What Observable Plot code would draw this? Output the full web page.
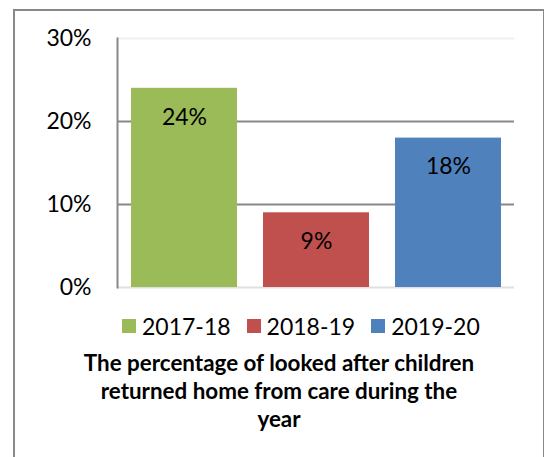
<!DOCTYPE html>
<html>
<head>
<meta charset="utf-8">
<script src="https://cdn.jsdelivr.net/npm/d3@7"></script>
<script src="https://cdn.jsdelivr.net/npm/@observablehq/plot@0.6"></script>
<style>
  html, body { margin: 0; padding: 0; background: #fff; }
  #wrap { position: relative; width: 544px; height: 457px; overflow: hidden; background: #fff; font-family: Lato, "Open Sans", sans-serif; }
  #frame { position: absolute; left: 13px; top: 9px; width: 528px; height: 460px; border-left: 2px solid #898989; border-top: 2px solid #898989; border-right: 2px solid #898989; box-sizing: content-box; }
  #chart { position: absolute; left: 0; top: 0; }
  #legend { position: absolute; left: 122px; top: 312px; height: 28px; line-height: 28px; display: flex; align-items: center; font-size: 23px; color: #000; white-space: nowrap; }
  .sw { width: 14px; height: 14px; margin-right: 6px; }
  .item { display: flex; align-items: center; margin-right: 16px; }
  #title { position: absolute; left: 14px; width: 530px; top: 349px; text-align: center; font-weight: bold; font-size: 22.4px; line-height: 28px; color: #000; white-space: nowrap; }
</style>
</head>
<body>
<div id="wrap">
  <div id="frame"></div>
  <div id="chart"></div>
  <div id="legend"></div>
  <div id="title"></div>
</div>
<script>
const years = ["2017-18", "2018-19", "2019-20"];
const values = [0.24, 0.09, 0.18];
const colors = ["#9BBB59", "#C0504D", "#4F81BD"];
const yTicks = [0, 0.1, 0.2, 0.3];
const titleLines = ["The percentage of looked after children", "returned home from care during the", "year"];

const data = years.map((y, i) => ({year: y, value: values[i]}));
const pct = d3.format(".0%");

const chart = Plot.plot({
  width: 544,
  height: 300,
  marginLeft: 117,
  marginRight: 30,
  marginTop: 38,
  marginBottom: 13,
  style: {fontFamily: "Lato, 'Open Sans', sans-serif", fontSize: "23px", color: "#000", background: "transparent", overflow: "visible"},
  x: {domain: years, paddingInner: 0.2, paddingOuter: 0.1, axis: null},
  y: {domain: [0, 0.3], axis: null},
  color: {domain: years, range: colors},
  marks: [
    Plot.ruleY([0.3], {stroke: "#efefef", strokeWidth: 2}),
    Plot.ruleY([0.1, 0.2], {stroke: "#888888", strokeWidth: 2}),
    Plot.ruleY([0], {stroke: "#e0e0e0", strokeWidth: 2}),
    Plot.axisY(yTicks, {tickFormat: pct, tickSize: 0, tickPadding: 26, fontSize: 23, label: null, fill: "#000"}),
    Plot.barY(data, {x: "year", y: "value", fill: "year"}),
    Plot.frame({anchor: "left", stroke: "#888888", strokeWidth: 2}),
    Plot.text(data, {x: "year", y: "value", text: d => pct(d.value), dy: 29, lineAnchor: "middle", fontSize: 23, fill: "#000"})
  ]
});
document.getElementById("chart").appendChild(chart);

const legend = document.getElementById("legend");
years.forEach((y, i) => {
  const item = document.createElement("div");
  item.className = "item";
  const sw = document.createElement("div");
  sw.className = "sw";
  sw.style.background = colors[i];
  const t = document.createElement("span");
  t.textContent = y;
  item.appendChild(sw);
  item.appendChild(t);
  legend.appendChild(item);
});

document.getElementById("title").innerHTML = titleLines.map(s => `<div>${s}</div>`).join("");
</script>
</body>
</html>
